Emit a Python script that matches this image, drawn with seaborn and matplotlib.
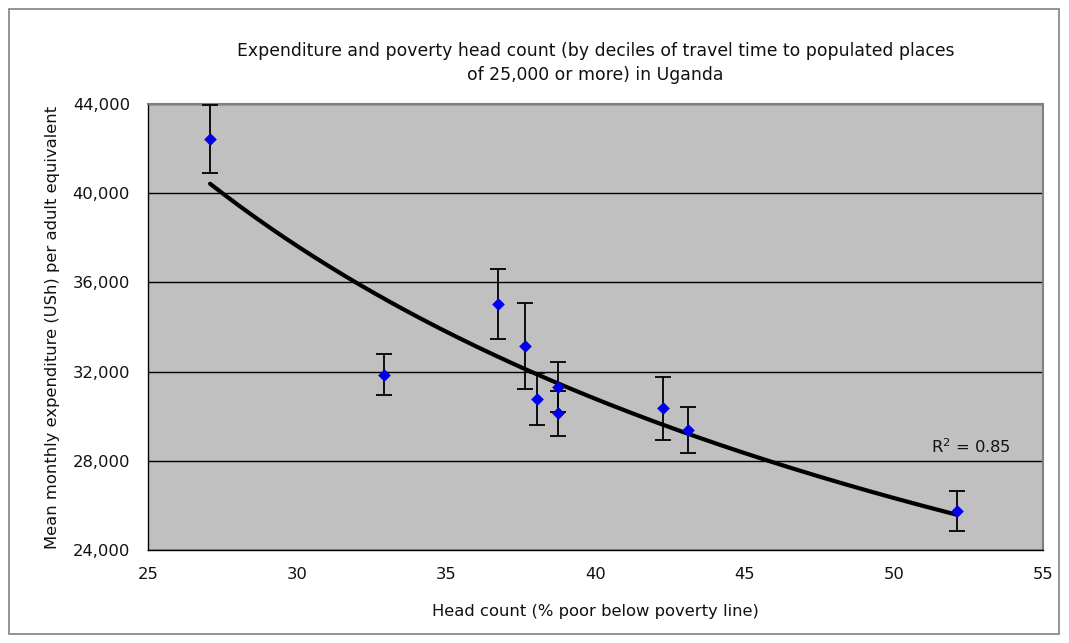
import numpy as np
import pandas as pd
import matplotlib
matplotlib.use("Agg")
import matplotlib.pyplot as plt
import seaborn as sns
from matplotlib.patches import Rectangle

head_count = [27.08, 32.91, 36.74, 37.65, 38.03, 38.73, 38.73, 42.25, 43.09, 52.11]
expenditure = [42430, 31850, 35030, 33160, 30760, 31300, 30140, 30350, 29380, 25750]
err = [1520, 920, 1590, 1930, 1160, 1130, 1010, 1420, 1040, 880]
yticks = [24000, 28000, 32000, 36000, 40000, 44000]
xticks = [25, 30, 35, 40, 45, 50, 55]
title = "Expenditure and poverty head count (by deciles of travel time to populated places\nof 25,000 or more) in Uganda"
r2_text = "R$^2$ = 0.85"

df = pd.DataFrame({"x": head_count, "y": expenditure, "e": err})

sns.set_theme(style="white")
plt.rcParams["font.family"] = ["DejaVu Sans"]

fig = plt.figure(figsize=(10.69, 6.43), dpi=100)
ax = fig.add_axes([148/1069, 1 - 550/643, (1043-148)/1069, (550-104)/643])
ax.set_facecolor("#C0C0C0")

# outer frame
fig.patches.append(Rectangle((9/1069, 9/643), 1050/1069, 625/643, transform=fig.transFigure,
                             fill=False, edgecolor="#808080", linewidth=1.2))

# power trendline fitted to data
b, log_a = np.polyfit(np.log(df["x"]), np.log(df["y"]), 1)
xs = np.linspace(df["x"].min(), df["x"].max(), 200)
sns.lineplot(x=xs, y=np.exp(log_a) * xs ** b, ax=ax, color="black", linewidth=3, zorder=3)

ax.errorbar(df["x"], df["y"], yerr=df["e"], fmt="none", ecolor="black", elinewidth=1.3,
            capsize=6, capthick=1.3, zorder=4)
sns.scatterplot(data=df, x="x", y="y", ax=ax, marker="D", color="#0000EE", s=42,
                edgecolor="#0000EE", linewidth=0, zorder=5)

ax.set_xlim(25, 55)
ax.set_ylim(24000, 44000)
ax.set_xticks(xticks)
ax.set_yticks(yticks)
ax.set_yticklabels([f"{v:,}" for v in yticks])
ax.yaxis.grid(True, color="black", linewidth=1)
ax.xaxis.grid(False)
ax.set_axisbelow(True)
ax.tick_params(axis="both", direction="out", length=4, width=1, color="black", labelsize=11.8, labelcolor="#111111")
ax.tick_params(axis="x", pad=8)
ax.tick_params(axis="y", pad=9)
for s in ["left", "bottom"]:
    ax.spines[s].set_color("black")
    ax.spines[s].set_linewidth(1)
for s in ["top", "right"]:
    ax.spines[s].set_color("#808080")
    ax.spines[s].set_linewidth(1.5)

ax.set_xlabel("Head count (% poor below poverty line)", fontsize=11.8, labelpad=16, color="#111111")
ax.set_ylabel("Mean monthly expenditure (USh) per adult equivalent", fontsize=11.8, labelpad=9, color="#111111")
ax.set_title(title, fontsize=12.4, pad=17, linespacing=1.45, color="#111111")

ax.text(52.6, 28000 + 200, r2_text, fontsize=11.8, ha="center", va="bottom", color="#111111")

fig.savefig("out.png", dpi=100, facecolor="white")
